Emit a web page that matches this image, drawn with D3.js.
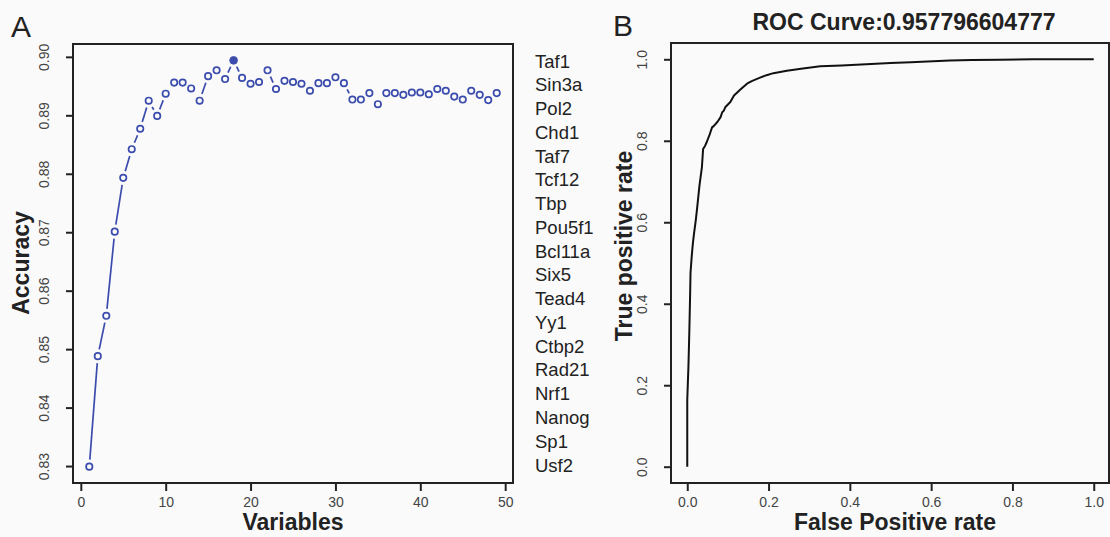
<!DOCTYPE html>
<html>
<head>
<meta charset="utf-8">
<script src="https://cdn.jsdelivr.net/npm/d3@7"></script>
<style>
  body { margin: 0; background: #fafafa; }
  svg { display: block; font-family: "Liberation Sans", Arial, sans-serif; }
</style>
</head>
<body>
<div id="chart"></div>
<script>
// accuracy for 1..49 variables (panel A)
var nVars = d3.range(1, 50);
var accuracy = [0.8299, 0.8488, 0.8557, 0.8701, 0.8793, 0.8842, 0.8877, 0.8925, 0.8899, 0.8937,
                0.8956, 0.8956, 0.8946, 0.8925, 0.8967, 0.8977, 0.8962, 0.8994, 0.8964, 0.8954,
                0.8957, 0.8977, 0.8945, 0.8959, 0.8957, 0.8954, 0.8942, 0.8955, 0.8955, 0.8965,
                0.8955, 0.8927, 0.8927, 0.8938, 0.8919, 0.8938, 0.8938, 0.8935, 0.8939, 0.8939,
                0.8936, 0.8945, 0.8942, 0.8932, 0.8927, 0.8942, 0.8935, 0.8926, 0.8938];
var bestVar = 18;
var accXTicks = [0, 10, 20, 30, 40, 50];
var accYTicks = [0.83, 0.84, 0.85, 0.86, 0.87, 0.88, 0.89, 0.90];

var genes = ["Taf1", "Sin3a", "Pol2", "Chd1", "Taf7", "Tcf12", "Tbp", "Pou5f1", "Bcl11a",
             "Six5", "Tead4", "Yy1", "Ctbp2", "Rad21", "Nrf1", "Nanog", "Sp1", "Usf2"];

// ROC curve (panel B)
var rocFpr = [0, 0, 0.003, 0.005, 0.007, 0.008, 0.011, 0.014, 0.017, 0.021, 0.024, 0.030, 0.036, 0.039,
              0.044, 0.048, 0.055, 0.057, 0.061, 0.065, 0.074, 0.082, 0.086, 0.090, 0.094, 0.106, 0.115,
              0.130, 0.147, 0.160, 0.179, 0.195, 0.212, 0.245, 0.280, 0.327, 0.380, 0.440, 0.500,
              0.550, 0.646, 0.700, 0.769, 0.850, 1.0];
var rocTpr = [0, 0.164, 0.25, 0.329, 0.42, 0.476, 0.517, 0.55, 0.575, 0.605, 0.632, 0.690, 0.735, 0.780,
              0.788, 0.797, 0.815, 0.821, 0.833, 0.836, 0.846, 0.858, 0.870, 0.874, 0.883, 0.895, 0.911,
              0.925, 0.940, 0.947, 0.955, 0.961, 0.966, 0.972, 0.977, 0.983, 0.985, 0.988, 0.991,
              0.993, 0.997, 0.998, 0.999, 1.0, 1.0];
var rocTicks = [0, 0.2, 0.4, 0.6, 0.8, 1.0];
var aucTitle = "ROC Curve:0.957796604777";

var W = 1110, H = 537;
var blue = "#3b4cad", ink = "#222", tickInk = "#444";

var svg = d3.select("#chart").append("svg")
    .attr("width", W).attr("height", H);
svg.append("rect").attr("width", W).attr("height", H).attr("fill", "#fafafa");

// ---------- panel A ----------
var xA = d3.scaleLinear().domain([-0.92, 50.92]).range([73, 513]);
var yA = d3.scaleLinear().domain([0.8271, 0.9022]).range([483, 44]);

var gA = svg.append("g");
gA.append("rect")
    .attr("x", xA.range()[0]).attr("y", yA.range()[1])
    .attr("width", xA.range()[1] - xA.range()[0]).attr("height", yA.range()[0] - yA.range()[1])
    .attr("fill", "none").attr("stroke", ink).attr("stroke-width", 2);

var axA = gA.append("g").attr("transform", "translate(0," + yA.range()[0] + ")")
    .call(d3.axisBottom(xA).tickValues(accXTicks).tickSize(8).tickPadding(6).tickFormat(d3.format("d")));
var ayA = gA.append("g").attr("transform", "translate(" + xA.range()[0] + ",0)")
    .call(d3.axisLeft(yA).tickValues(accYTicks).tickSize(7).tickFormat(d3.format(".2f")));

// line segments with gaps around points (like R type = "b")
var pts = nVars.map(function(v, i) { return [xA(v), yA(accuracy[i])]; });
var gap = 7;
for (var i = 0; i < pts.length - 1; i++) {
    var p = pts[i], q = pts[i + 1];
    var dx = q[0] - p[0], dy = q[1] - p[1], len = Math.sqrt(dx * dx + dy * dy);
    if (len - 2 * gap < 1.5) continue;
    var ux = dx / len, uy = dy / len;
    gA.append("line")
        .attr("x1", p[0] + ux * gap).attr("y1", p[1] + uy * gap)
        .attr("x2", q[0] - ux * gap).attr("y2", q[1] - uy * gap)
        .attr("stroke", blue).attr("stroke-width", 1.7);
}

gA.selectAll("circle.pt")
    .data(nVars)
    .enter().append("circle")
    .attr("class", "pt")
    .attr("cx", function(d) { return xA(d); })
    .attr("cy", function(d, i) { return yA(accuracy[i]); })
    .attr("r", function(d) { return d === bestVar ? 3.9 : 3.2; })
    .attr("fill", function(d) { return d === bestVar ? blue : "#fafafa"; })
    .attr("stroke", blue)
    .attr("stroke-width", function(d) { return d === bestVar ? 0.8 : 1.7; });

gA.append("text").attr("x", 293).attr("y", 530).attr("text-anchor", "middle")
    .attr("font-size", 23).attr("font-weight", "bold").attr("fill", ink).text("Variables");
gA.append("text").attr("transform", "translate(21,263) rotate(-90)")
    .attr("text-anchor", "middle").attr("dominant-baseline", "central")
    .attr("font-size", 23).attr("font-weight", "bold").attr("fill", ink).text("Accuracy");
gA.append("text").attr("x", 11).attr("y", 37).attr("font-size", 30).attr("fill", ink).text("A");

// gene list
var yGene = d3.scalePoint().domain(genes).range([61, 465]);
gA.selectAll("text.gene")
    .data(genes)
    .enter().append("text")
    .attr("class", "gene")
    .attr("x", 535)
    .attr("y", function(d) { return yGene(d); })
    .attr("dominant-baseline", "central")
    .attr("font-size", 18.5)
    .attr("fill", ink)
    .text(function(d) { return d; });

// ---------- panel B ----------
var xB = d3.scaleLinear().domain([-0.04, 1.04]).range([671, 1110]);
var yB = d3.scaleLinear().domain([-0.04, 1.04]).range([483, 43]);

var gB = svg.append("g");
gB.append("rect")
    .attr("x", xB.range()[0]).attr("y", yB.range()[1])
    .attr("width", xB.range()[1] - xB.range()[0] - 1).attr("height", yB.range()[0] - yB.range()[1])
    .attr("fill", "none").attr("stroke", ink).attr("stroke-width", 2);

var axB = gB.append("g").attr("transform", "translate(0," + yB.range()[0] + ")")
    .call(d3.axisBottom(xB).tickValues(rocTicks).tickSize(8).tickPadding(6).tickFormat(d3.format(".1f")));
var ayB = gB.append("g").attr("transform", "translate(" + xB.range()[0] + ",0)")
    .call(d3.axisLeft(yB).tickValues(rocTicks).tickSize(7).tickFormat(d3.format(".1f")));

var rocLine = d3.line()
    .x(function(d, i) { return xB(rocFpr[i]); })
    .y(function(d, i) { return yB(rocTpr[i]); });
gB.append("path")
    .attr("d", rocLine(rocFpr))
    .attr("fill", "none").attr("stroke", "#111").attr("stroke-width", 2)
    .attr("stroke-linejoin", "round");

gB.append("text").attr("x", 895).attr("y", 530).attr("text-anchor", "middle")
    .attr("font-size", 23).attr("font-weight", "bold").attr("fill", ink).text("False Positive rate");
gB.append("text").attr("transform", "translate(624,246) rotate(-90)")
    .attr("text-anchor", "middle").attr("dominant-baseline", "central")
    .attr("font-size", 23).attr("font-weight", "bold").attr("fill", ink).text("True positive rate");
gB.append("text").attr("x", 904).attr("y", 30).attr("text-anchor", "middle")
    .attr("font-size", 23).attr("font-weight", "bold").attr("fill", ink).text(aucTitle);
gB.append("text").attr("x", 613).attr("y", 36).attr("font-size", 30).attr("fill", ink).text("B");

// axis styling shared by both panels
[axA, ayA, axB, ayB].forEach(function(a) {
    a.attr("font-size", 14).attr("font-family", "Liberation Sans, Arial, sans-serif");
    a.select(".domain").remove();
    a.selectAll(".tick line").attr("stroke", ink).attr("stroke-width", 2);
    a.selectAll(".tick text").attr("fill", tickInk);
});
// R draws y tick labels rotated and centred on the tick
[ayA, ayB].forEach(function(a) {
    a.selectAll(".tick text")
        .attr("x", null).attr("dy", null)
        .attr("text-anchor", "middle").attr("dominant-baseline", "central")
        .attr("transform", "translate(-29,0) rotate(-90)");
});
</script>
</body>
</html>
